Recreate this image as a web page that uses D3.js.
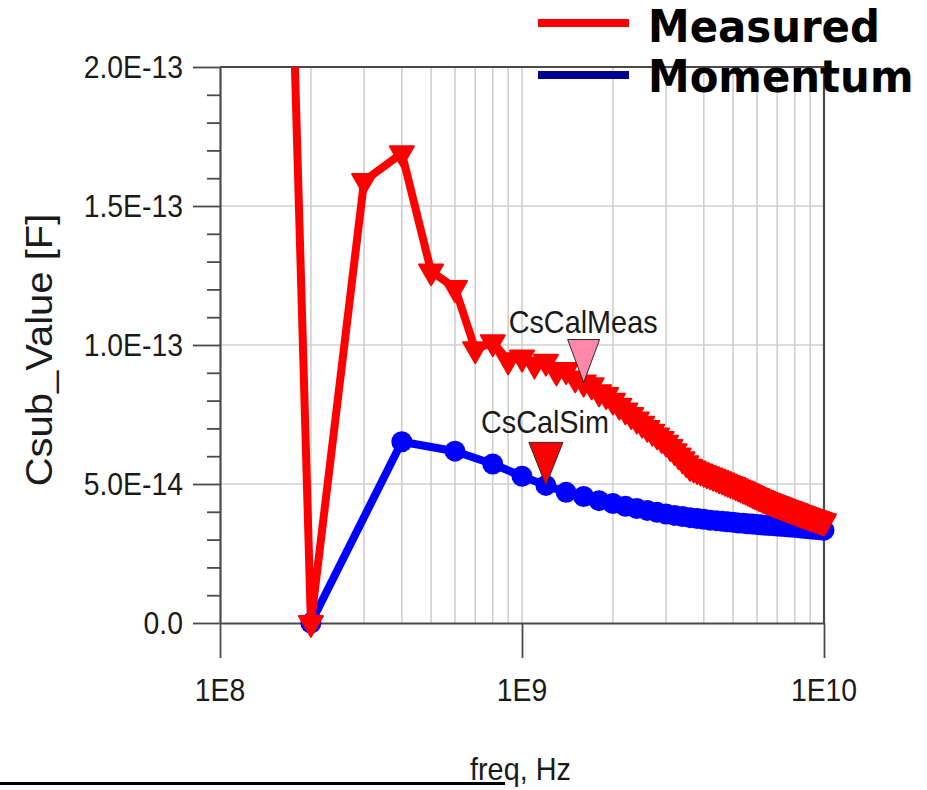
<!DOCTYPE html>
<html>
<head>
<meta charset="utf-8">
<script src="https://cdn.jsdelivr.net/npm/d3@7"></script>
<style>
  html, body { margin: 0; padding: 0; background: #fff; }
  svg { display: block; }
</style>
</head>
<body>
<svg id="chart" width="927" height="790"></svg>
<script>
// Measured substrate capacitance, 0.1 GHz steps (values in units of 1E-14 F)
const measFreqGHz = [
  0.1,0.2,0.3,0.4,0.5,0.6,0.7,0.8,0.9,1.0,
  1.1,1.2,1.3,1.4,1.5,1.6,1.7,1.8,1.9,2.0,
  2.1,2.2,2.3,2.4,2.5,2.6,2.7,2.8,2.9,3.0,
  3.1,3.2,3.3,3.4,3.5,3.6,3.7,3.8,3.9,4.0,
  4.1,4.2,4.3,4.4,4.5,4.6,4.7,4.8,4.9,5.0,
  5.1,5.2,5.3,5.4,5.5,5.6,5.7,5.8,5.9,6.0,
  6.1,6.2,6.3,6.4,6.5,6.6,6.7,6.8,6.9,7.0,
  7.1,7.2,7.3,7.4,7.5,7.6,7.7,7.8,7.9,8.0,
  8.1,8.2,8.3,8.4,8.5,8.6,8.7,8.8,8.9,9.0,
  9.1,9.2,9.3,9.4,9.5,9.6,9.7,9.8,9.9,10.0
];
const measCsub = [
  113.7,0.0,15.9,16.9,12.65,12.05,9.85,10.1,9.45,9.55,
  9.3,9.4,9.05,9.1,8.8,8.65,8.55,8.3,8.2,8.0,
  7.82,7.65,7.48,7.32,7.17,7.02,6.88,6.75,6.62,6.49,
  6.33,6.18,6.03,5.89,5.75,5.62,5.56,5.50,5.45,5.40,
  5.35,5.31,5.26,5.22,5.17,5.13,5.08,5.04,5.00,4.97,
  4.92,4.88,4.84,4.80,4.76,4.72,4.68,4.64,4.60,4.57,
  4.53,4.50,4.46,4.43,4.40,4.37,4.35,4.32,4.29,4.27,
  4.24,4.22,4.19,4.17,4.14,4.12,4.10,4.07,4.05,4.03,
  4.01,3.98,3.96,3.94,3.92,3.90,3.88,3.86,3.84,3.82,
  3.80,3.79,3.77,3.75,3.73,3.72,3.70,3.68,3.67,3.65
];

// Momentum simulation, 0.2 GHz steps (units of 1E-14 F)
const simFreqGHz = [
  0.2,0.4,0.6,0.8,1.0,1.2,1.4,1.6,1.8,2.0,
  2.2,2.4,2.6,2.8,3.0,3.2,3.4,3.6,3.8,4.0,
  4.2,4.4,4.6,4.8,5.0,5.2,5.4,5.6,5.8,6.0,
  6.2,6.4,6.6,6.8,7.0,7.2,7.4,7.6,7.8,8.0,
  8.2,8.4,8.6,8.8,9.0,9.2,9.4,9.6,9.8,10.0
];
const simCsub = [
  0.0,6.52,6.18,5.72,5.28,4.95,4.70,4.55,4.40,4.30,
  4.20,4.12,4.05,3.98,3.92,3.87,3.83,3.79,3.76,3.73,
  3.70,3.68,3.66,3.64,3.62,3.60,3.59,3.57,3.56,3.54,
  3.53,3.52,3.51,3.50,3.49,3.48,3.47,3.46,3.45,3.44,
  3.43,3.42,3.41,3.40,3.39,3.38,3.37,3.36,3.35,3.34
];

// Axis ticks
const yTickValues = [0, 5e-14, 1e-13, 1.5e-13, 2e-13];
const yTickLabels = ["0.0", "5.0E-14", "1.0E-13", "1.5E-13", "2.0E-13"];
const xTickValues = [1e8, 1e9, 1e10];
const xTickLabels = ["1E8", "1E9", "1E10"];

// Markers placed on the traces
const markerNames = ["CsCalMeas", "CsCalSim"];
const markerFreqGHz = [1.6, 1.2];

// Legend
const legendNames = ["Measured", "Momentum"];
const legendColors = ["#ff0000", "#000090"];

const SQ = 0.93;              // horizontal text compression
const FONT = "'Liberation Sans', Arial, sans-serif";

const measData = measFreqGHz.map((f, i) => ({ f: f * 1e9, v: measCsub[i] * 1e-14 }));
const simData = simFreqGHz.map((f, i) => ({ f: f * 1e9, v: simCsub[i] * 1e-14 }));

const svg = d3.select("#chart");
const x = d3.scaleLog().domain([1e8, 1e10]).range([220, 824]);
const y = d3.scaleLinear().domain([0, 2e-13]).range([623, 67]);

const gridColor = "#cfcfcf";
const axisColor = "#4a4a4a";

// vertical log grid
const gridX = x.ticks().filter(t => t > 1e8 && t < 1e10);
svg.append("g").selectAll("line").data(gridX).join("line")
  .attr("x1", d => x(d)).attr("x2", d => x(d))
  .attr("y1", y(2e-13)).attr("y2", y(0))
  .attr("stroke", gridColor).attr("stroke-width", 1.6);

// horizontal grid at major values
svg.append("g").selectAll("line").data(yTickValues.filter(v => v > 0 && v < 2e-13)).join("line")
  .attr("x1", x(1e8)).attr("x2", x(1e10))
  .attr("y1", d => y(d)).attr("y2", d => y(d))
  .attr("stroke", gridColor).attr("stroke-width", 1.6);

// minor y ticks
const yMinor = d3.range(0, 21).map(i => i * 1e-14).filter(v => !yTickValues.some(t => Math.abs(t - v) < 1e-16));
const gMinor = svg.append("g").attr("transform", `translate(${x(1e8)},0)`)
  .call(d3.axisLeft(y).tickValues(yMinor).tickSize(13).tickFormat(() => ""));
gMinor.select(".domain").remove();

// left axis with major ticks
const gLeft = svg.append("g").attr("transform", `translate(${x(1e8)},0)`)
  .call(d3.axisLeft(y).tickValues(yTickValues).tickSize(27).tickSizeOuter(0).tickFormat(() => ""));

// bottom axis with decade ticks
const gBottom = svg.append("g").attr("transform", `translate(0,${y(0)})`)
  .call(d3.axisBottom(x).tickValues(xTickValues).tickSize(35).tickSizeOuter(0).tickFormat(() => ""));

[gMinor, gLeft, gBottom].forEach(g => {
  g.selectAll("line").attr("stroke", axisColor).attr("stroke-width", 1.8);
  g.selectAll(".domain").attr("stroke", axisColor).attr("stroke-width", 2.2);
});

// top and right frame
svg.append("line").attr("x1", x(1e8)).attr("x2", x(1e10)).attr("y1", y(2e-13)).attr("y2", y(2e-13))
  .attr("stroke", axisColor).attr("stroke-width", 2.2);
svg.append("line").attr("x1", x(1e10)).attr("x2", x(1e10)).attr("y1", y(2e-13)).attr("y2", y(0))
  .attr("stroke", axisColor).attr("stroke-width", 2.2);

// tick labels
svg.append("g").selectAll("text").data(yTickValues).join("text")
  .attr("transform", d => `translate(183,${y(d) + 11}) scale(${SQ},1)`)
  .attr("text-anchor", "end").attr("font-family", FONT).attr("font-size", 30.5)
  .attr("fill", "#1a1a1a").text((d, i) => yTickLabels[i]);

svg.append("g").selectAll("text").data(xTickValues).join("text")
  .attr("transform", d => `translate(${x(d)},701) scale(${SQ},1)`)
  .attr("text-anchor", "middle").attr("font-family", FONT).attr("font-size", 30.5)
  .attr("fill", "#1a1a1a").text((d, i) => xTickLabels[i]);

// axis titles
svg.append("text")
  .attr("transform", `translate(52,350) scale(${SQ},1) rotate(-90)`)
  .attr("text-anchor", "middle").attr("font-family", FONT).attr("font-size", 40)
  .attr("fill", "#1a1a1a").text("Csub_Value [F]");

svg.append("text")
  .attr("transform", `translate(470,780) scale(${SQ},1)`)
  .attr("font-family", FONT).attr("font-size", 31)
  .attr("fill", "#1a1a1a").text("freq, Hz");
svg.append("line").attr("x1", 0).attr("x2", 505).attr("y1", 783.5).attr("y2", 783.5)
  .attr("stroke", "#000").attr("stroke-width", 3);

// traces
svg.append("defs").append("clipPath").attr("id", "plotClip")
  .append("rect").attr("x", 190).attr("y", y(2e-13)).attr("width", 680).attr("height", 640);

const plot = svg.append("g").attr("clip-path", "url(#plotClip)");
const line = d3.line().x(d => x(d.f)).y(d => y(d.v));

plot.append("path").datum(simData).attr("d", line)
  .attr("fill", "none").attr("stroke", "#0000ff").attr("stroke-width", 8)
  .attr("stroke-linejoin", "round");
plot.append("g").selectAll("circle").data(simData).join("circle")
  .attr("cx", d => x(d.f)).attr("cy", d => y(d.v)).attr("r", 10.5)
  .attr("fill", "#0000ff");

plot.append("path").datum(measData).attr("d", line)
  .attr("fill", "none").attr("stroke", "#ff0000").attr("stroke-width", 8)
  .attr("stroke-linejoin", "round");
const tri = d3.symbol().type(d3.symbolTriangle).size(250);
plot.append("g").selectAll("path").data(measData).join("path")
  .attr("transform", d => `translate(${x(d.f)},${y(d.v)}) rotate(180)`)
  .attr("d", tri).attr("fill", "#ff0000")
  .attr("stroke", "#ff0000").attr("stroke-width", 2).attr("stroke-linejoin", "round");

// trace markers
const markerSpecs = [
  { data: measData, fill: "#ff88aa", dx: -75, dy: -50, half: 16 },
  { data: simData, fill: "#ff0000", dx: -65, dy: -52, half: 17 }
];
markerNames.forEach((name, i) => {
  const s = markerSpecs[i];
  const f = markerFreqGHz[i] * 1e9;
  const pt = s.data.find(d => Math.abs(d.f - f) < 1e6);
  const ax = x(pt.f), ay = y(pt.v);
  svg.append("path")
    .attr("d", `M${ax - s.half},${ay - 43}L${ax + s.half},${ay - 43}L${ax},${ay}Z`)
    .attr("fill", s.fill).attr("stroke", "#2a2a2a").attr("stroke-width", 1);
  svg.append("text")
    .attr("transform", `translate(${ax + s.dx},${ay + s.dy}) scale(${SQ},1)`)
    .attr("font-family", FONT).attr("font-size", 31).attr("fill", "#1a1a1a")
    .text(name);
});

// legend
legendNames.forEach((name, i) => {
  const ly = 23 + i * 52;
  svg.append("line").attr("x1", 538).attr("x2", 629).attr("y1", ly).attr("y2", ly)
    .attr("stroke", legendColors[i]).attr("stroke-width", 8);
  svg.append("text")
    .attr("transform", `translate(648,${ly + 19 + (i ? -2 : 0)}) scale(${SQ},1)`)
    .attr("font-family", "'DejaVu Sans', Verdana, sans-serif").attr("font-weight", "bold")
    .attr("font-size", 45).attr("fill", "#000").text(name);
});
</script>
</body>
</html>
